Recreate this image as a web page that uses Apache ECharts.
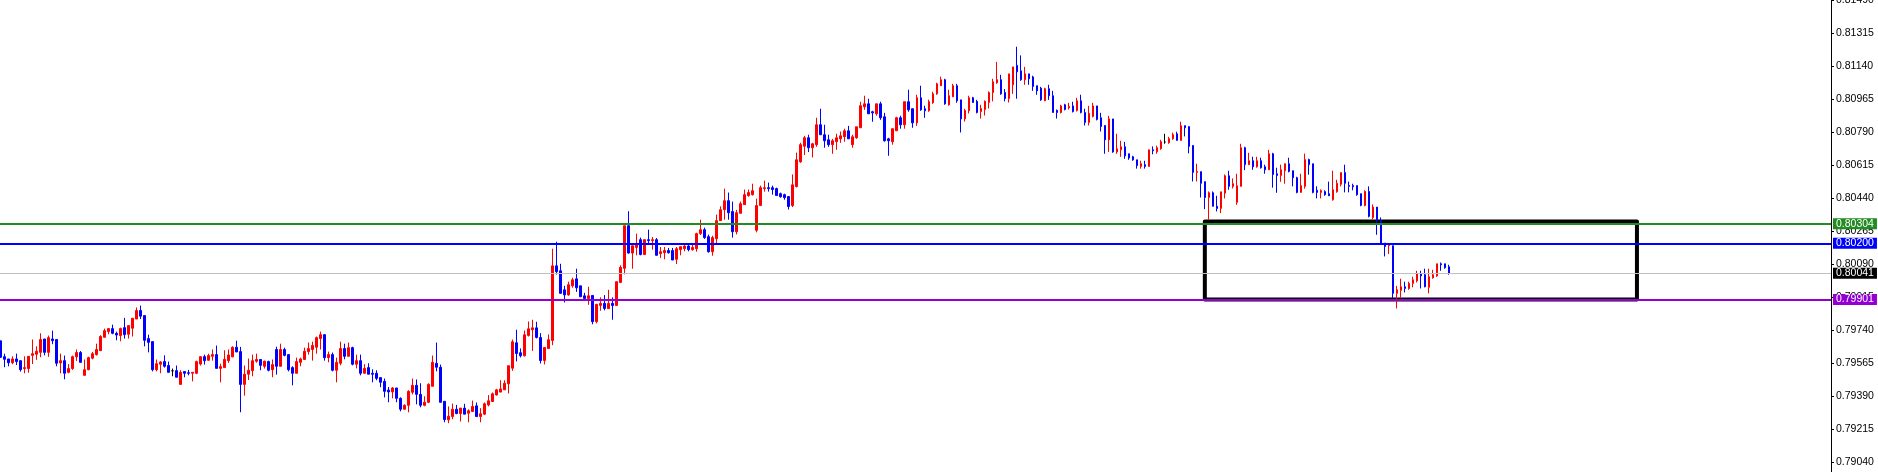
<!DOCTYPE html>
<html>
<head>
<meta charset="utf-8">
<script src="https://cdn.jsdelivr.net/npm/echarts@6/dist/echarts.min.js"></script>
<style>
html,body{margin:0;padding:0;background:#fff;}
#chart{width:1878px;height:472px;}
</style>
</head>
<body>
<div id="chart"></div>
<script>
// ---- values (MT4-style candles: red = up, blue = down) ----
const opens = [
.79682,.79598,.79586,.79566,.79586,.79577,.79535,.79535,.79605,.79611,.79621,.79692,.79621,.79692,.79689,.79565,.79577,.79515,.79535,.79597,
.79620,.79499,.79529,.79590,.79609,.79630,.79701,.79731,.79747,.79722,.79710,.79752,.79717,.79749,.79798,.79843,.79816,.79694,.79678,.79529,
.79558,.79572,.79551,.79523,.79524,.79451,.79519,.79513,.79510,.79510,.79559,.79598,.79579,.79600,.79609,.79536,.79540,.79577,.79597,.79648,
.79625,.79451,.79505,.79524,.79574,.79583,.79547,.79572,.79529,.79636,.79547,.79636,.79609,.79540,.79510,.79568,.79583,.79625,.79636,.79648,
.79694,.79715,.79593,.79609,.79526,.79563,.79641,.79600,.79646,.79558,.79577,.79510,.79540,.79510,.79510,.79487,.79467,.79421,.79411,.79432,
.79377,.79319,.79340,.79409,.79446,.79398,.79340,.79356,.79441,.79563,.79542,.79361,.79263,.79280,.79319,.79296,.79325,.79298,.79307,.79337,
.79280,.79293,.79342,.79360,.79395,.79410,.79422,.79454,.79537,.79672,.79619,.79603,.79711,.79741,.79751,.79700,.79578,.79641,.79684,.80080,
.80054,.79953,.79926,.79974,.80011,.79974,.79921,.79907,.79923,.79784,.79870,.79881,.79853,.79881,.79870,.79992,.80067,.80293,.80148,.80178,
.80219,.80140,.80219,.80214,.80219,.80145,.80150,.80161,.80161,.80115,.80166,.80171,.80185,.80166,.80171,.80251,.80272,.80235,.80155,.80224,
.80320,.80378,.80426,.80368,.80261,.80359,.80405,.80453,.80458,.80269,.80400,.80490,.80495,.80495,.80490,.80463,.80458,.80448,.80400,.80501,
.80632,.80715,.80760,.80707,.80723,.80829,.80776,.80749,.80723,.80739,.80754,.80765,.80797,.80723,.80760,.80813,.80924,.80940,.80898,.80887,
.80940,.80871,.80754,.80739,.80797,.80866,.80829,.80951,.80914,.80839,.80972,.80914,.80903,.80946,.80993,.81036,.81068,.80935,.80977,.81036,
.80961,.80860,.80903,.80972,.80953,.80899,.80910,.80947,.81000,.81052,.81068,.81000,.80968,.81041,.81144,.81115,.81068,.81099,.81083,.81036,
.81023,.80956,.81020,.80983,.80905,.80894,.80935,.80919,.80929,.80905,.80956,.80894,.80841,.80873,.80929,.80866,.80825,.80749,.80860,.80685,
.80696,.80712,.80675,.80659,.80643,.80608,.80617,.80608,.80696,.80686,.80702,.80737,.80734,.80755,.80781,.80746,.80824,.80819,.80719,.80576,
.80580,.80527,.80443,.80468,.80396,.80385,.80466,.80558,.80502,.80417,.80502,.80707,.80617,.80638,.80606,.80638,.80606,.80590,.80675,.80569,
.80560,.80585,.80622,.80585,.80548,.80470,.80502,.80644,.80622,.80481,.80470,.80474,.80463,.80431,.80474,.80513,.80575,.80507,.80506,.80506,
.80463,.80401,.80475,.80337,.80392,.80320,.80201,.80187,.80187,.79934,.79950,.79969,.79960,.79987,.80001,.80038,.80033,.79966,.80017,.80027,
.80091,.80091,.80075
];
const closes = [
.79595,.79584,.79566,.79586,.79572,.79529,.79540,.79600,.79614,.79627,.79689,.79621,.79699,.79683,.79563,.79577,.79510,.79535,.79598,.79620,
.79568,.79529,.79593,.79614,.79636,.79705,.79736,.79747,.79722,.79713,.79747,.79715,.79763,.79802,.79843,.79813,.79685,.79674,.79529,.79561,
.79570,.79547,.79515,.79523,.79489,.79515,.79510,.79510,.79515,.79572,.79598,.79577,.79604,.79609,.79536,.79545,.79584,.79607,.79648,.79623,
.79451,.79505,.79526,.79577,.79583,.79552,.79574,.79526,.79556,.79547,.79636,.79605,.79529,.79510,.79572,.79586,.79627,.79641,.79657,.79699,
.79715,.79593,.79609,.79526,.79568,.79641,.79600,.79646,.79558,.79577,.79510,.79536,.79505,.79505,.79483,.79462,.79414,.79411,.79432,.79377,
.79319,.79340,.79414,.79446,.79398,.79340,.79356,.79451,.79568,.79542,.79356,.79264,.79282,.79319,.79296,.79325,.79293,.79311,.79334,.79280,
.79295,.79348,.79364,.79401,.79422,.79427,.79457,.79550,.79677,.79615,.79603,.79714,.79746,.79751,.79700,.79578,.79647,.79688,.80080,.80049,
.79934,.79926,.79980,.80006,.79964,.79916,.79907,.79921,.79784,.79876,.79881,.79854,.79881,.79870,.79996,.80072,.80293,.80148,.80187,.80198,
.80140,.80219,.80214,.80219,.80136,.80155,.80161,.80150,.80111,.80171,.80182,.80185,.80166,.80178,.80251,.80272,.80230,.80155,.80230,.80320,
.80378,.80426,.80362,.80261,.80362,.80410,.80458,.80469,.80479,.80400,.80495,.80495,.80490,.80485,.80453,.80447,.80442,.80395,.80510,.80643,
.80723,.80760,.80707,.80728,.80829,.80776,.80744,.80723,.80744,.80760,.80770,.80797,.80754,.80765,.80818,.80930,.80940,.80887,.80892,.80940,
.80866,.80744,.80744,.80808,.80866,.80829,.80951,.80908,.80839,.80972,.80908,.80903,.80951,.80993,.81046,.81068,.80940,.80983,.81036,.80956,
.80860,.80905,.80972,.80947,.80894,.80915,.80953,.81000,.81057,.81068,.80993,.80968,.81099,.81136,.81110,.81068,.81099,.81073,.81032,.81009,
.80961,.81020,.80983,.80894,.80894,.80929,.80910,.80926,.80899,.80956,.80894,.80841,.80889,.80929,.80857,.80820,.80749,.80860,.80685,.80701,
.80712,.80664,.80653,.80643,.80612,.80622,.80608,.80696,.80691,.80707,.80739,.80737,.80755,.80776,.80746,.80824,.80813,.80714,.80576,.80581,
.80518,.80443,.80468,.80396,.80385,.80473,.80558,.80502,.80516,.80505,.80707,.80617,.80638,.80606,.80638,.80601,.80590,.80675,.80565,.80560,
.80590,.80622,.80581,.80548,.80470,.80506,.80644,.80617,.80470,.80470,.80479,.80458,.80452,.80484,.80518,.80575,.80518,.80502,.80500,.80458,
.80401,.80475,.80343,.80392,.80325,.80201,.80183,.80192,.79934,.79953,.79969,.79960,.79987,.80006,.80038,.80027,.79969,.80022,.80033,.80091,
.80086,.80070,.80041
];
const lows = [
.79591,.79542,.79547,.79558,.79554,.79519,.79510,.79513,.79559,.79581,.79595,.79605,.79597,.79664,.79547,.79510,.79478,.79510,.79528,.79575,
.79566,.79499,.79526,.79584,.79604,.79630,.79701,.79717,.79717,.79685,.79680,.79694,.79694,.79705,.79798,.79798,.79653,.79621,.79520,.79520,
.79510,.79540,.79515,.79494,.79489,.79451,.79489,.79499,.79467,.79505,.79551,.79556,.79577,.79577,.79536,.79462,.79540,.79565,.79595,.79623,
.79303,.79391,.79474,.79494,.79566,.79526,.79535,.79520,.79489,.79503,.79547,.79600,.79520,.79446,.79510,.79547,.79583,.79609,.79577,.79614,
.79636,.79577,.79568,.79520,.79462,.79552,.79584,.79600,.79552,.79536,.79499,.79510,.79505,.79462,.79473,.79436,.79382,.79356,.79377,.79356,
.79308,.79319,.79303,.79398,.79345,.79329,.79335,.79351,.79441,.79520,.79356,.79250,.79245,.79266,.79293,.79254,.79293,.79250,.79307,.79280,
.79250,.79288,.79334,.79360,.79392,.79410,.79422,.79403,.79523,.79573,.79594,.79599,.79705,.79629,.79695,.79562,.79557,.79641,.79659,.80034,
.79934,.79886,.79921,.79964,.79942,.79916,.79896,.79873,.79770,.79775,.79842,.79844,.79853,.79794,.79870,.79989,.80035,.80145,.80065,.80136,
.80136,.80140,.80201,.80166,.80136,.80122,.80115,.80145,.80111,.80090,.80136,.80157,.80157,.80161,.80155,.80244,.80223,.80150,.80134,.80192,
.80320,.80325,.80325,.80230,.80247,.80359,.80405,.80447,.80453,.80258,.80400,.80474,.80474,.80458,.80453,.80442,.80431,.80379,.80392,.80496,
.80627,.80668,.80684,.80655,.80712,.80776,.80707,.80712,.80675,.80696,.80733,.80739,.80754,.80707,.80754,.80813,.80908,.80887,.80845,.80877,
.80855,.80739,.80664,.80723,.80797,.80808,.80808,.80898,.80813,.80823,.80903,.80866,.80898,.80940,.80988,.81036,.80935,.80930,.80977,.80946,
.80788,.80846,.80889,.80947,.80889,.80862,.80878,.80915,.80953,.81046,.80988,.80953,.80947,.80993,.80967,.81062,.81041,.81041,.81009,.80988,
.80956,.80956,.80961,.80894,.80862,.80889,.80905,.80910,.80894,.80899,.80889,.80825,.80825,.80868,.80852,.80793,.80675,.80685,.80680,.80675,
.80659,.80648,.80643,.80638,.80596,.80596,.80596,.80608,.80672,.80675,.80696,.80728,.80728,.80749,.80746,.80746,.80767,.80677,.80528,.80528,
.80443,.80381,.80325,.80396,.80369,.80360,.80438,.80484,.80491,.80404,.80502,.80588,.80617,.80590,.80601,.80596,.80569,.80590,.80495,.80468,
.80526,.80516,.80576,.80502,.80465,.80470,.80490,.80564,.80465,.80438,.80438,.80452,.80452,.80426,.80468,.80502,.80470,.80470,.80481,.80452,
.80396,.80396,.80337,.80327,.80245,.80194,.80130,.80143,.79909,.79854,.79912,.79939,.79953,.79966,.79992,.79960,.79966,.79934,.80012,.80022,
.80054,.80065,.80033
];
const highs = [
.79682,.79614,.79586,.79600,.79614,.79577,.79600,.79600,.79689,.79653,.79722,.79692,.79710,.79736,.79689,.79614,.79604,.79559,.79604,.79636,
.79628,.79583,.79598,.79623,.79667,.79712,.79747,.79747,.79768,.79731,.79752,.79804,.79763,.79802,.79859,.79869,.79816,.79715,.79678,.79583,
.79574,.79605,.79572,.79535,.79551,.79526,.79519,.79528,.79515,.79577,.79598,.79609,.79614,.79636,.79657,.79561,.79632,.79636,.79653,.79683,
.79650,.79551,.79588,.79609,.79614,.79583,.79577,.79577,.79583,.79651,.79667,.79646,.79609,.79547,.79593,.79593,.79646,.79673,.79678,.79705,
.79731,.79715,.79625,.79620,.79593,.79678,.79667,.79673,.79651,.79609,.79609,.79558,.79563,.79531,.79526,.79487,.79482,.79437,.79437,.79432,
.79382,.79345,.79420,.79482,.79477,.79457,.79388,.79457,.79604,.79673,.79556,.79361,.79334,.79349,.79342,.79325,.79348,.79319,.79365,.79355,
.79325,.79355,.79394,.79408,.79427,.79473,.79473,.79550,.79689,.79741,.79642,.79737,.79785,.79794,.79783,.79723,.79647,.79716,.80171,.80208,
.80091,.79974,.79996,.80017,.80065,.79974,.79937,.79969,.79923,.79876,.79913,.79925,.79953,.79913,.79996,.80083,.80293,.80370,.80187,.80251,
.80230,.80219,.80272,.80233,.80228,.80180,.80180,.80175,.80175,.80180,.80182,.80196,.80191,.80196,.80256,.80325,.80283,.80246,.80240,.80352,
.80396,.80490,.80469,.80421,.80377,.80421,.80485,.80485,.80516,.80437,.80506,.80532,.80522,.80506,.80495,.80469,.80463,.80448,.80565,.80681,
.80733,.80770,.80776,.80733,.80866,.80914,.80829,.80776,.80754,.80781,.80793,.80808,.80823,.80776,.80818,.80951,.80983,.80967,.80903,.80940,
.80951,.80892,.80760,.80808,.80871,.80877,.80951,.81015,.80914,.80988,.81036,.80930,.80962,.81004,.81052,.81084,.81073,.81015,.81046,.81046,
.80961,.80914,.80983,.80977,.80961,.80935,.80958,.81006,.81073,.81163,.81094,.81018,.81099,.81136,.81243,.81197,.81136,.81099,.81089,.81036,
.81030,.81025,.81041,.81009,.80910,.80935,.80940,.80945,.80951,.80972,.80988,.80914,.80929,.80945,.80929,.80892,.80825,.80876,.80860,.80781,
.80744,.80738,.80675,.80664,.80643,.80638,.80638,.80696,.80714,.80718,.80749,.80781,.80765,.80787,.80792,.80845,.80824,.80819,.80719,.80622,
.80580,.80527,.80475,.80475,.80452,.80473,.80565,.80585,.80544,.80569,.80728,.80712,.80680,.80659,.80659,.80654,.80617,.80696,.80680,.80601,
.80617,.80622,.80654,.80585,.80553,.80569,.80676,.80649,.80622,.80502,.80486,.80481,.80527,.80585,.80537,.80575,.80617,.80527,.80516,.80506,
.80463,.80481,.80502,.80406,.80392,.80337,.80201,.80201,.80187,.79974,.80012,.79996,.79996,.80022,.80054,.80054,.80065,.80065,.80059,.80091,
.80098,.80091,.80086
];
// price-axis tick labels on the right
const tickValues = [0.79040,0.79215,0.79390,0.79565,0.79740,0.79915,0.80090,0.80265,0.80440,0.80615,0.80790,0.80965,0.81140,0.81315,0.81490];
// horizontal levels
const levelPrices = [0.80304, 0.80200, 0.80041, 0.79901];
const levelColors = ['#228B22', '#0000FF', '#C0C0C0', '#9400D3'];
const levelLabelBg = ['#228B22', '#0000FF', '#000000', '#9400D3'];
const levelWidths = [2, 2, 1, 2];
// rectangle zone: bar indices and price bounds
const zoneBars = [301, 409];
const zonePrices = [0.80315, 0.79901];
const slotCount = 458; // number of bar slots across the plot
const yMin = 0.78986, yMax = 0.81491;

const categories = Array.from({length: slotCount}, (_, i) => String(i));
const ohlc = opens.map((o, i) => [o, closes[i], lows[i], highs[i]]);

const chart = echarts.init(document.getElementById('chart'), null, {renderer: 'canvas'});
const font = "'Liberation Sans', Arial, sans-serif";

chart.setOption({
  animation: false,
  backgroundColor: '#ffffff',
  grid: {left: -1.5, right: 47, top: 0, bottom: 0, containLabel: false, outerBoundsMode: 'none'},
  xAxis: {
    type: 'category', data: categories, boundaryGap: true,
    axisLine: {show: false}, axisTick: {show: false}, axisLabel: {show: false}, splitLine: {show: false}
  },
  yAxis: {
    type: 'value', position: 'right', min: yMin, max: yMax,
    axisLine: {show: true, lineStyle: {color: '#000', width: 1}},
    axisTick: {show: true, length: 3, lineStyle: {color: '#000'}, customValues: tickValues},
    axisLabel: {
      show: true, customValues: tickValues, margin: 5, color: '#000',
      fontFamily: font, fontSize: 10.5, formatter: v => v.toFixed(5)
    },
    splitLine: {show: false}
  },
  series: [
    {
      type: 'candlestick',
      data: ohlc,
      barWidth: 2,
      itemStyle: {
        color: '#FF0000', color0: '#0000FF',
        borderColor: '#FF0000', borderColor0: '#0000FF', borderColorDoji: '#000000',
        borderWidth: 1
      },
      z: 3
    },
    {
      type: 'line',
      data: [],
      silent: true,
      z: 2,
      markArea: {
        silent: true,
        itemStyle: {color: 'rgba(0,0,0,0)', borderColor: '#000', borderWidth: 4, borderJoin: 'round'},
        data: [[
          {xAxis: categories[zoneBars[0]], yAxis: zonePrices[0]},
          {xAxis: categories[zoneBars[1]], yAxis: zonePrices[1]}
        ]]
      }
    },
    ...levelPrices.map((p, i) => ({
      type: 'line',
      data: [],
      silent: true,
      z: 4,
      markLine: {
        silent: true, symbol: ['none', 'none'], animation: false, precision: 5,
        lineStyle: {color: levelColors[i], width: levelWidths[i], type: 'solid'},
        label: {
          show: true, position: 'end', distance: 2, formatter: p.toFixed(5),
          color: '#fff', backgroundColor: levelLabelBg[i], padding: [1, 3, 0, 3],
          fontFamily: font, fontSize: 10.5, lineHeight: 10
        },
        data: [{yAxis: p}]
      }
    }))
  ]
});
</script>
</body>
</html>
